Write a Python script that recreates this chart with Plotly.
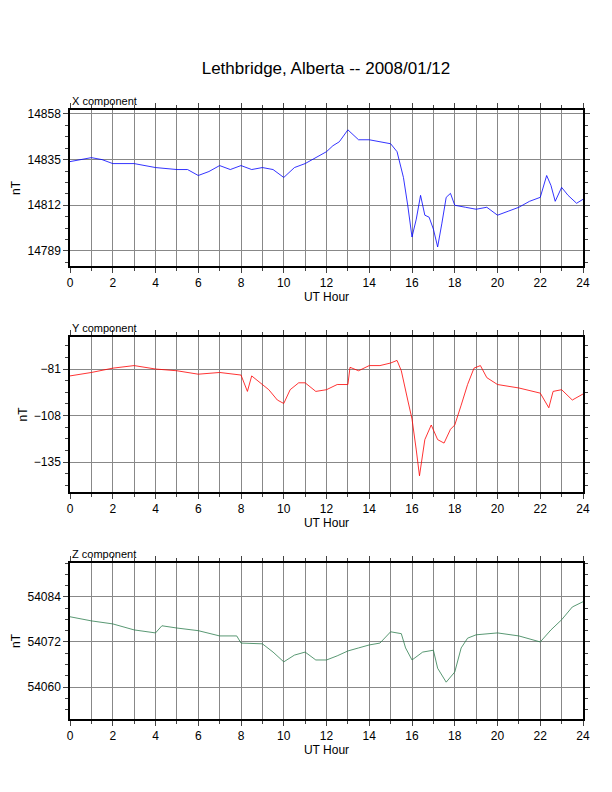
import plotly.graph_objects as go
from plotly.subplots import make_subplots

#hand read values from the reference picture
x_hours = [0, 0.5, 1, 1.5, 2, 3, 4, 5, 5.5, 6, 6.5, 7, 7.5, 8, 8.5, 9, 9.5, 10, 10.5, 11, 11.5, 12, 12.3, 12.6, 13, 13.5, 14, 14.5, 15, 15.3, 15.6, 15.8, 16, 16.2, 16.4, 16.6, 16.8, 17, 17.2, 17.4, 17.6, 17.8, 18, 18.5, 19, 19.5, 20, 20.5, 21, 21.5, 22, 22.3, 22.5, 22.7, 23, 23.3, 23.7, 24]
x_values = [14834, 14835, 14836, 14835, 14833, 14833, 14831, 14830, 14830, 14827, 14829, 14832, 14830, 14832, 14830, 14831, 14830, 14826, 14831, 14833, 14836, 14839, 14842, 14844, 14850, 14845, 14845, 14844, 14843, 14839, 14826, 14812, 14796, 14805, 14817, 14807, 14806, 14800, 14791, 14803, 14816, 14818, 14812, 14811, 14810, 14811, 14807, 14809, 14811, 14814, 14816, 14827, 14822, 14814, 14821, 14817, 14813, 14815]

y_hours = [0, 1, 2, 3, 4, 5, 6, 7, 8, 8.3, 8.5, 9, 9.3, 9.7, 10, 10.3, 10.7, 11, 11.5, 12, 12.5, 13, 13.1, 13.5, 14, 14.5, 15, 15.3, 15.5, 15.8, 16, 16.2, 16.35, 16.6, 16.9, 17.2, 17.5, 17.8, 18, 18.3, 18.6, 18.9, 19.2, 19.5, 20, 21, 22, 22.4, 22.6, 23, 23.5, 24]
y_values = [-85, -83, -80.5, -79, -81, -82, -84, -83, -84.5, -94, -85, -90, -93, -99, -101, -93, -89, -89, -94, -93, -90, -90, -80, -82, -79, -79, -77.5, -76, -82, -99, -110, -128, -143, -122, -113.5, -122, -124, -116, -113.5, -102, -90, -80.5, -79, -86, -90, -92, -95, -103.5, -94, -93, -99, -95.5]

z_hours = [0, 1, 2, 3, 4, 4.3, 5, 6, 7, 7.8, 8, 9, 9.5, 10, 10.5, 11, 11.5, 12, 12.5, 13, 13.5, 14, 14.5, 15, 15.5, 15.7, 16, 16.5, 17, 17.2, 17.6, 18, 18.3, 18.6, 19, 20, 21, 22, 22.5, 23, 23.5, 24]
z_values = [54078.7, 54077.6, 54076.8, 54075.2, 54074.4, 54076.3, 54075.7, 54075, 54073.6, 54073.6, 54071.7, 54071.5, 54069.3, 54066.7, 54068.5, 54069.3, 54067.2, 54067.2, 54068.3, 54069.6, 54070.4, 54071.2, 54071.7, 54074.7, 54074.2, 54070.4, 54067.2, 54069.3, 54069.8, 54065, 54061.3, 54064, 54070.4, 54073, 54073.9, 54074.4, 54073.6, 54072, 54075.2, 54077.9, 54081.3, 54082.7]

x_ticks = [14789, 14812, 14835, 14858]
y_ticks = [-135, -108, -81]
z_ticks = [54060, 54072, 54084]

panels = [
    ('X component', x_hours, x_values, 'blue', x_ticks, [14781.4, 14860]),
    ('Y component', y_hours, y_values, 'red', y_ticks, [-152.4, -62.4]),
    ('Z component', z_hours, z_values, '#2e7d4f', z_ticks, [54051.5, 54093]),
]
#page has an 8px body margin, so pixel positions are shifted back by 8
W, H, off = 612, 792, 8
px_boxes = [(110, 266), (337, 492), (563, 719)]
domains = [[1 - (b - off) / H, 1 - (t - off) / H] for t, b in px_boxes]
xdom = [(70 - off) / W, (583 - off) / W]

fig = make_subplots(rows=3, cols=1)
font = 'Liberation Sans, Arial, sans-serif'

for i, (name, hrs, vals, color, ticks, yrange) in enumerate(panels):
    row = i + 1
    fig.add_trace(go.Scatter(x=hrs, y=vals, mode='lines', line=dict(color=color, width=0.8), showlegend=False), row=row, col=1)
    fig.update_xaxes(domain=xdom, range=[0, 24], tickvals=list(range(0, 25, 2)), ticks='outside', ticklen=5,
                     minor=dict(dtick=1, ticks='outside', ticklen=3, showgrid=True, gridcolor='#888888'),
                     showgrid=True, gridcolor='#888888', gridwidth=0.7, showline=True, linecolor='black', linewidth=1.5, mirror='ticks',
                     title=dict(text='UT Hour', font=dict(size=12), standoff=2), zeroline=False, automargin=False, row=row, col=1)
    fig.update_yaxes(domain=domains[i], range=yrange, tickvals=ticks, tickformat='d', ticks='outside', ticklen=5,
                     minor=dict(dtick=(ticks[1]-ticks[0])/4, ticks='outside', ticklen=3),
                     showgrid=True, gridcolor='#888888', gridwidth=0.7, showline=True, linecolor='black', linewidth=1.5, mirror='ticks',
                     title=dict(text='nT', font=dict(size=12), standoff=4), zeroline=False, automargin=False, row=row, col=1)
    fig.add_annotation(text=name, xref='paper', yref='paper', x=xdom[0], y=domains[i][1], xanchor='left', yanchor='bottom',
                       yshift=1, showarrow=False, font=dict(size=11, color='black'))

fig.update_layout(width=W, height=H, margin=dict(l=0, r=0, t=0, b=0, autoexpand=False),
                  paper_bgcolor='white', plot_bgcolor='white',
                  font=dict(family=font, size=12, color='black'),
                  title=dict(text='Lethbridge, Alberta -- 2008/01/12', x=(326 - off) / W, xanchor='center', y=1 - (68 - off) / H, yanchor='middle',
                             font=dict(size=17), automargin=False))

fig.write_html("out.html")
